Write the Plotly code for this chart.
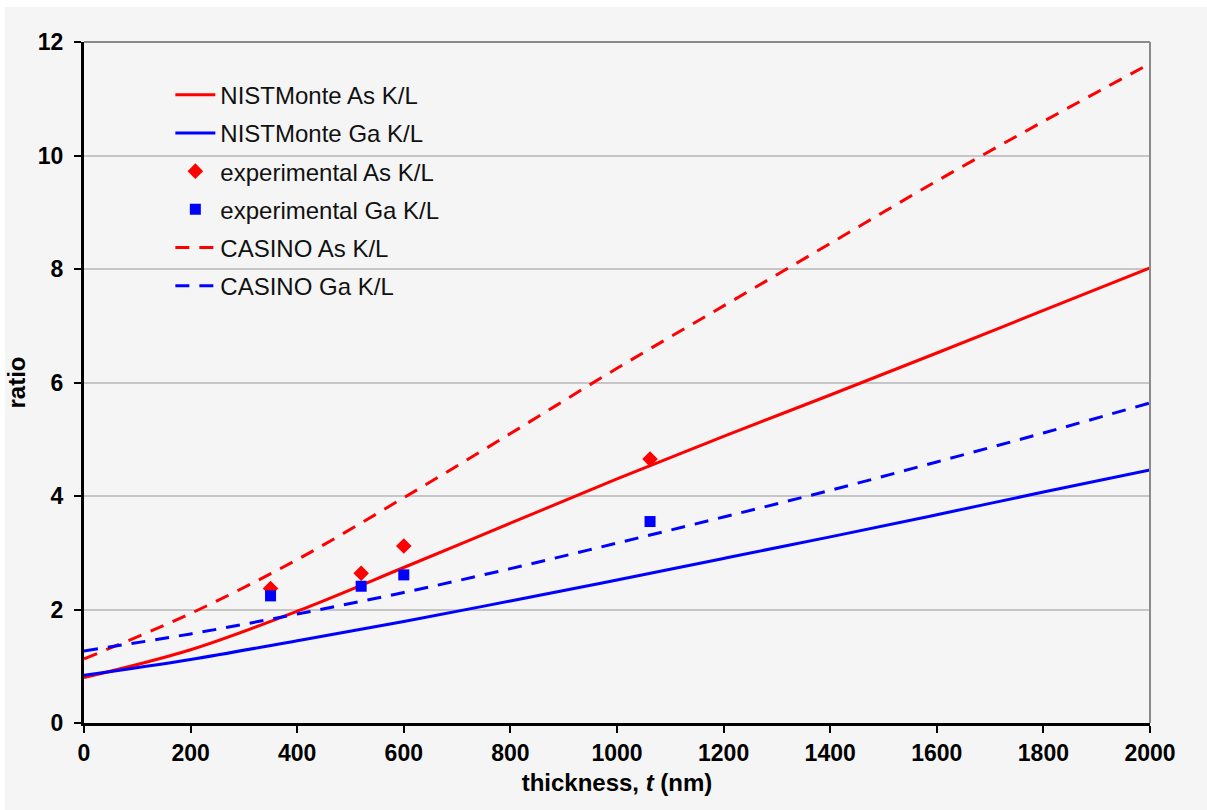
import plotly.graph_objects as go

# ---- data ----
thickness = [0, 200, 400, 600, 800, 1000, 1200, 1400, 1600, 1800, 2000]
nist_as = [0.80, 1.29, 1.97, 2.74, 3.52, 4.30, 5.05, 5.78, 6.52, 7.27, 8.02]
nist_ga = [0.84, 1.12, 1.45, 1.79, 2.15, 2.52, 2.90, 3.28, 3.67, 4.07, 4.46]
casino_as = [1.13, 1.93, 2.88, 3.97, 5.10, 6.25, 7.35, 8.45, 9.55, 10.60, 11.62]
casino_ga = [1.27, 1.57, 1.92, 2.30, 2.72, 3.17, 3.63, 4.10, 4.60, 5.11, 5.64]

exp_t = [350, 520, 600, 1062]
exp_as = [2.37, 2.64, 3.12, 4.65]
exp_ga = [2.24, 2.41, 2.61, 3.55]

x_ticks = list(range(0, 2001, 200))
y_ticks = list(range(0, 13, 2))

RED = "#ff0000"
BLUE = "#0000ff"
BG = "#f5f5f5"
FONT = "Liberation Sans, Arial, sans-serif"

fig = go.Figure()
fig.add_trace(go.Scatter(x=thickness, y=nist_as, mode="lines", name="NISTMonte As K/L",
                         line=dict(color=RED, width=3, shape="spline"), legendgroup="a"))
fig.add_trace(go.Scatter(x=thickness, y=nist_ga, mode="lines", name="NISTMonte Ga K/L",
                         line=dict(color=BLUE, width=3, shape="spline"), legendgroup="b"))
fig.add_trace(go.Scatter(x=exp_t, y=exp_as, mode="markers", name="experimental As K/L",
                         marker=dict(symbol="diamond", color=RED, size=12), legendgroup="c"))
fig.add_trace(go.Scatter(x=exp_t, y=exp_ga, mode="markers", name="experimental Ga K/L",
                         marker=dict(symbol="square", color=BLUE, size=11), legendgroup="d"))
fig.add_trace(go.Scatter(x=thickness, y=casino_as, mode="lines", name="CASINO As K/L",
                         line=dict(color=RED, width=3, dash="14px,10px", shape="spline"), legendgroup="e"))
fig.add_trace(go.Scatter(x=thickness, y=casino_ga, mode="lines", name="CASINO Ga K/L",
                         line=dict(color=BLUE, width=3, dash="14px,10px", shape="spline"), legendgroup="f"))

fig.update_layout(
    width=1207, height=810,
    margin=dict(l=84, r=57, t=42, b=87),
    paper_bgcolor=BG, plot_bgcolor=BG,
    font=dict(family=FONT, color="#000000"),
    showlegend=True,
    legend=dict(x=0.081, y=0.955, xanchor="left", yanchor="top",
                bgcolor="rgba(0,0,0,0)", font=dict(family=FONT, size=24, color="#111111"),
                tracegroupgap=4, itemwidth=40),
    xaxis=dict(range=[0, 2000], tickvals=x_ticks, showgrid=False, zeroline=False,
               showline=True, linecolor="#000000", linewidth=3,
               ticks="outside", ticklen=7, tickwidth=2, tickcolor="#000000",
               tickfont=dict(family=FONT, size=23, weight="bold"),
               title=dict(text="thickness, <i>t</i> (nm)", standoff=10,
                          font=dict(family=FONT, size=24, weight="bold"))),
    yaxis=dict(range=[0, 12], tickvals=y_ticks, showgrid=True, gridcolor="#c6c6c6", gridwidth=1.5,
               zeroline=False, showline=True, linecolor="#000000", linewidth=3,
               ticks="outside", ticklen=7, tickwidth=2, tickcolor="#000000",
               ticklabelstandoff=6,
               tickfont=dict(family=FONT, size=23, weight="bold"),
               title=dict(text="ratio", standoff=6,
                          font=dict(family=FONT, size=24, weight="bold"))),
    shapes=[
        # gray border on top and right of the plot area
        dict(type="line", xref="paper", yref="paper", x0=0, x1=1, y0=1, y1=1,
             line=dict(color="#8a8a8a", width=2), layer="above"),
        dict(type="line", xref="paper", yref="paper", x0=1, x1=1, y0=0, y1=1,
             line=dict(color="#8a8a8a", width=2), layer="above"),
        # white strips at the top and left edge of the picture
        dict(type="rect", xref="paper", yref="paper", x0=-0.08, x1=1.06, y0=1.0514, y1=1.08,
             fillcolor="#ffffff", line=dict(width=0), layer="below"),
        dict(type="rect", xref="paper", yref="paper", x0=-0.08, x1=-0.0741, y0=-0.13, y1=1.08,
             fillcolor="#ffffff", line=dict(width=0), layer="below"),
    ],
)

fig.write_html("out.html")
